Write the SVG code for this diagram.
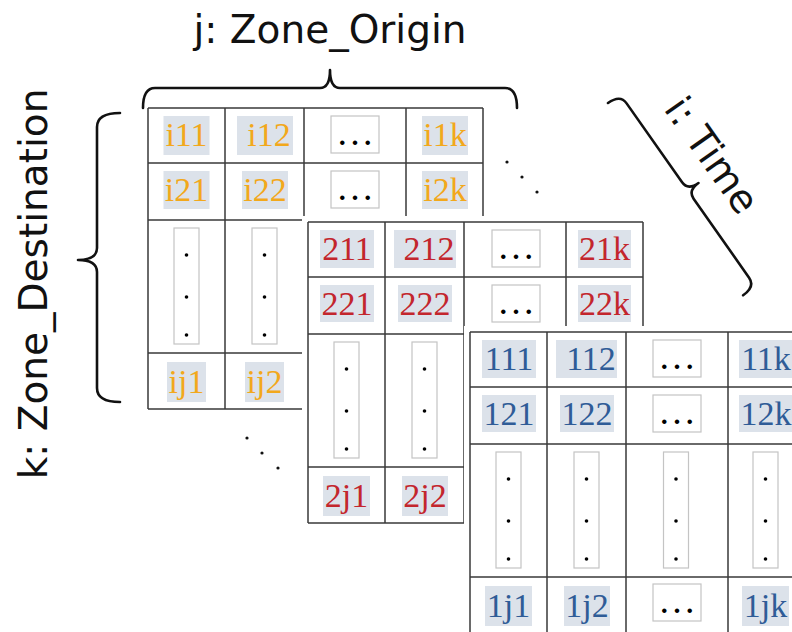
<svg xmlns="http://www.w3.org/2000/svg" xmlns:xlink="http://www.w3.org/1999/xlink" width="792" height="632" viewBox="0 0 792 632">
<style>
.gl{fill:none;stroke:#3a3a3a;stroke-width:1.5}
.bx{fill:#fff;stroke:#c4c4c4;stroke-width:1.2}
.hl{fill:#dce2ea}
.cell{font-family:"Liberation Serif","Times New Roman",serif;font-size:34px;text-anchor:middle}
.o{fill:#f2a81c}
.r{fill:#c3262d}
.b{fill:#2f5c97}
.ell{font-family:"Liberation Serif","Times New Roman",serif;font-size:38px;text-anchor:middle;fill:#000}
.lab{font-family:"DejaVu Sans","Liberation Sans",sans-serif;font-size:39px;fill:#111;text-anchor:middle}
.brace{fill:none;stroke:#111;stroke-width:2.6;stroke-linecap:round;stroke-linejoin:round}
</style>
<defs>
<g id="gridLines">
<rect x="-6" y="-6" width="347" height="313" fill="#fff"/>
<path class="gl" d="M0,0H335M0,55H335M0,112H335M0,245H335M0,301H335M0,0V301M77,0V301M156,0V301M258,0V301M335,0V301"/>
</g>
<g id="vdots">
<rect class="bx" x="-12.5" y="0" width="25" height="116"/>
<circle cx="0" cy="27" r="1.8" fill="#000"/>
<circle cx="0" cy="69" r="1.8" fill="#000"/>
<circle cx="0" cy="107" r="1.8" fill="#000"/>
</g>
</defs>
<rect width="792" height="632" fill="#fff"/>

<g id="grid-i" transform="translate(148,108)">
<use xlink:href="#gridLines"/>
<rect class="hl" x="15.5" y="8" width="46" height="39"/><text class="cell o" x="38.5" y="38">i11</text>
<rect class="hl" x="89" y="8" width="56" height="39"/><text class="cell o" x="121" y="38">i12</text>
<rect class="bx" x="183" y="8" width="48" height="37"/><text class="ell" x="207" y="37">…</text>
<rect class="hl" x="274" y="8" width="46" height="39"/><text class="cell o" x="297" y="38">i1k</text>
<rect class="hl" x="15.5" y="63" width="46" height="38"/><text class="cell o" x="38.5" y="93">i21</text>
<rect class="hl" x="94" y="63" width="46" height="38"/><text class="cell o" x="117" y="93">i22</text>
<rect class="bx" x="183" y="63" width="48" height="37"/><text class="ell" x="207" y="92">…</text>
<rect class="hl" x="274" y="63" width="46" height="38"/><text class="cell o" x="297" y="93">i2k</text>
<use xlink:href="#vdots" x="38.5" y="120"/>
<use xlink:href="#vdots" x="116.5" y="120"/>
<rect class="hl" x="19" y="254" width="39" height="40"/><text class="cell o" x="38.5" y="285">ij1</text>
<rect class="hl" x="97" y="254" width="39" height="40"/><text class="cell o" x="116.5" y="285">ij2</text>
</g>

<g id="grid-2" transform="translate(308,222)">
<use xlink:href="#gridLines"/>
<rect class="hl" x="12" y="8" width="54" height="38"/><text class="cell r" x="39" y="38">211</text>
<rect class="hl" x="86" y="8" width="62" height="38"/><text class="cell r" x="121" y="38">212</text>
<rect class="bx" x="184" y="8" width="48" height="37"/><text class="ell" x="208" y="37">…</text>
<rect class="hl" x="270" y="8" width="53" height="38"/><text class="cell r" x="296.5" y="38">21k</text>
<rect class="hl" x="12" y="63" width="54" height="37"/><text class="cell r" x="39" y="93">221</text>
<rect class="hl" x="90" y="63" width="54" height="37"/><text class="cell r" x="117" y="93">222</text>
<rect class="bx" x="184" y="63" width="48" height="37"/><text class="ell" x="208" y="92">…</text>
<rect class="hl" x="270" y="63" width="53" height="37"/><text class="cell r" x="296.5" y="93">22k</text>
<use xlink:href="#vdots" x="38.5" y="120"/>
<use xlink:href="#vdots" x="116.5" y="120"/>
<rect class="hl" x="15" y="254" width="47" height="40"/><text class="cell r" x="38.5" y="285">2j1</text>
<rect class="hl" x="94" y="254" width="46" height="40"/><text class="cell r" x="117" y="285">2j2</text>
</g>

<g id="grid-1" transform="translate(470,332)">
<use xlink:href="#gridLines"/>
<rect class="hl" x="12" y="8" width="54" height="38"/><text class="cell b" x="39" y="38">111</text>
<rect class="hl" x="86" y="8" width="61" height="38"/><text class="cell b" x="121" y="38">112</text>
<rect class="bx" x="183" y="8" width="48" height="37"/><text class="ell" x="207" y="37">…</text>
<rect class="hl" x="269" y="8" width="54" height="38"/><text class="cell b" x="296" y="38">11k</text>
<rect class="hl" x="12" y="63" width="54" height="37"/><text class="cell b" x="39" y="93">121</text>
<rect class="hl" x="90" y="63" width="54" height="37"/><text class="cell b" x="117" y="93">122</text>
<rect class="bx" x="183" y="63" width="48" height="37"/><text class="ell" x="207" y="92">…</text>
<rect class="hl" x="269" y="63" width="54" height="37"/><text class="cell b" x="296" y="93">12k</text>
<use xlink:href="#vdots" x="38.5" y="120"/>
<use xlink:href="#vdots" x="116.5" y="120"/>
<use xlink:href="#vdots" x="206" y="120"/>
<use xlink:href="#vdots" x="295.5" y="120"/>
<rect class="hl" x="15" y="254" width="47" height="40"/><text class="cell b" x="38.5" y="285">1j1</text>
<rect class="hl" x="94" y="254" width="46" height="40"/><text class="cell b" x="117" y="285">1j2</text>
<rect class="bx" x="183" y="252" width="48" height="37"/><text class="ell" x="207" y="281">…</text>
<rect class="hl" x="272" y="254" width="47" height="40"/><text class="cell b" x="295.5" y="285">1jk</text>
</g>

<g id="stack-dots" fill="#111">
<circle cx="507" cy="162" r="1.6"/><circle cx="522" cy="177" r="1.6"/><circle cx="537" cy="192" r="1.6"/>
<circle cx="247" cy="438" r="1.6"/><circle cx="262" cy="453" r="1.6"/><circle cx="278" cy="468" r="1.6"/>
</g>

<g id="braces">
<path class="brace" d="M143,108 Q143,88 155,88 L320,88 Q330,88 330,70 Q330,88 340,88 L505,88 Q517,88 517,108"/>
<path class="brace" d="M120,113 Q97,113 97,127 L97,248 Q97,260 78,260 Q97,260 97,272 L97,388 Q97,402 120,402"/>
<path class="brace" transform="translate(608,103) rotate(54.9)" d="M0,0 Q0,-15 11,-15 L107.5,-15 Q117.5,-15 117.5,-28 Q117.5,-15 127.5,-15 L224,-15 Q235,-15 235,0"/>
</g>

<g id="labels">
<text class="lab" x="330" y="43">j: Zone_Origin</text>
<text class="lab" transform="translate(47,284) rotate(-90)">k: Zone_Destination</text>
<text class="lab" transform="translate(701,163) rotate(54.9)">i: Time</text>
</g>
</svg>
